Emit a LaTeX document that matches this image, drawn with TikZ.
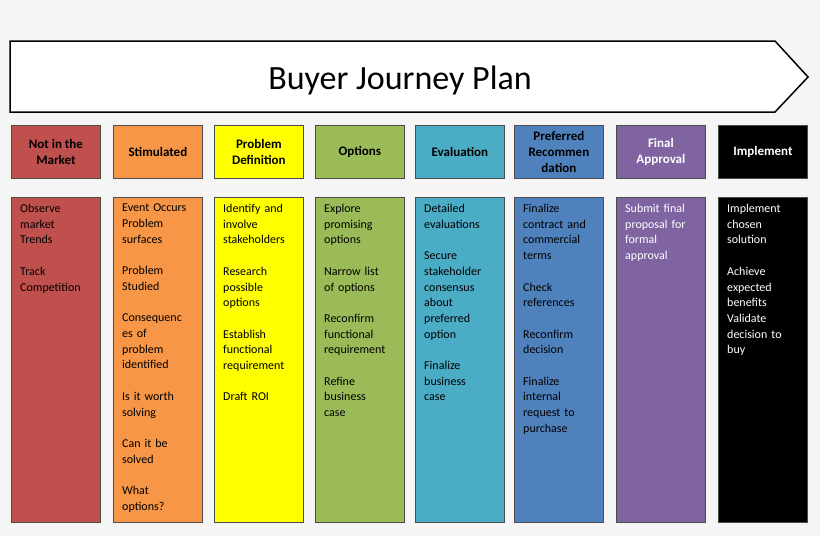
\documentclass[tikz,border=0pt]{standalone}
\usepackage{fontspec}
\setmainfont{Carlito}
\definecolor{c1}{HTML}{C0504D}
\definecolor{c2}{HTML}{F79646}
\definecolor{c3}{HTML}{FFFF00}
\definecolor{c4}{HTML}{9BBB59}
\definecolor{c5}{HTML}{4BACC6}
\definecolor{c6}{HTML}{4F81BD}
\definecolor{c7}{HTML}{8064A2}
\definecolor{c8}{HTML}{000000}
\begin{document}
\begin{tikzpicture}[x=1pt,y=-1pt,
  hdr/.style={draw=black!70,line width=0.8pt,minimum width=89pt,minimum height=53pt,anchor=north west,align=center,font=\fontsize{13}{16}\selectfont\bfseries,inner sep=1pt},
  bdy/.style={draw=black!70,line width=0.8pt,minimum width=89pt,minimum height=325pt,anchor=north west},
  txt/.style={anchor=north west,align=left,text width=80pt,font=\fontsize{12}{15.7}\selectfont,inner sep=0pt}]
\fill[black!4] (0,0) rectangle (820,536);
\useasboundingbox (0,0) rectangle (820,536);
\draw[line width=1.5pt,fill=white] (10,41) -- (775,41) -- (808,77) -- (775,112) -- (10,112) -- cycle;
\node (title) at (400,80) {\fontsize{34}{40}\selectfont Buyer Journey Plan};
\foreach \i/\x/\h/\tc/\b in {
 1/11/{Not in the\\Market}/black/{Observe\\market\\Trends\\[15.7pt]Track\\Competition},
 2/113/{Stimulated}/black/{Event Occurs\\Problem\\surfaces\\[15.7pt]Problem\\Studied\\[15.7pt]Consequenc\\es of\\problem\\identified\\[15.7pt]Is it worth\\solving\\[15.7pt]Can it be\\solved\\[15.7pt]What\\options?},
 3/214/{Problem\\Definition}/black/{Identify and\\involve\\stakeholders\\[15.7pt]Research\\possible\\options\\[15.7pt]Establish\\functional\\requirement\\[15.7pt]Draft ROI},
 4/315/{Options}/black/{Explore\\promising\\options\\[15.7pt]Narrow list\\of options\\[15.7pt]Reconfirm\\functional\\requirement\\[15.7pt]Refine\\business\\case},
 5/415/{Evaluation}/black/{Detailed\\evaluations\\[15.7pt]Secure\\stakeholder\\consensus\\about\\preferred\\option\\[15.7pt]Finalize\\business\\case},
 6/514/{Preferred\\Recommen\\dation}/black/{Finalize\\contract and\\commercial\\terms\\[15.7pt]Check\\references\\[15.7pt]Reconfirm\\decision\\[15.7pt]Finalize\\internal\\request to\\purchase},
 7/616/{Final\\Approval}/white/{Submit final\\proposal for\\formal\\approval},
 8/718/{Implement}/white/{Implement\\chosen\\solution\\[15.7pt]Achieve\\expected\\benefits\\Validate\\decision to\\buy}}
{
 \node[hdr,fill=c\i,text=\tc] (h\i) at (\x,125) {\h};
 \node[bdy,fill=c\i] (b\i) at (\x,197) {};
 \node[txt,text=\tc] (t\i) at ([xshift=9pt,yshift=-7pt]b\i.north west) {\b};
}
\end{tikzpicture}
\end{document}
